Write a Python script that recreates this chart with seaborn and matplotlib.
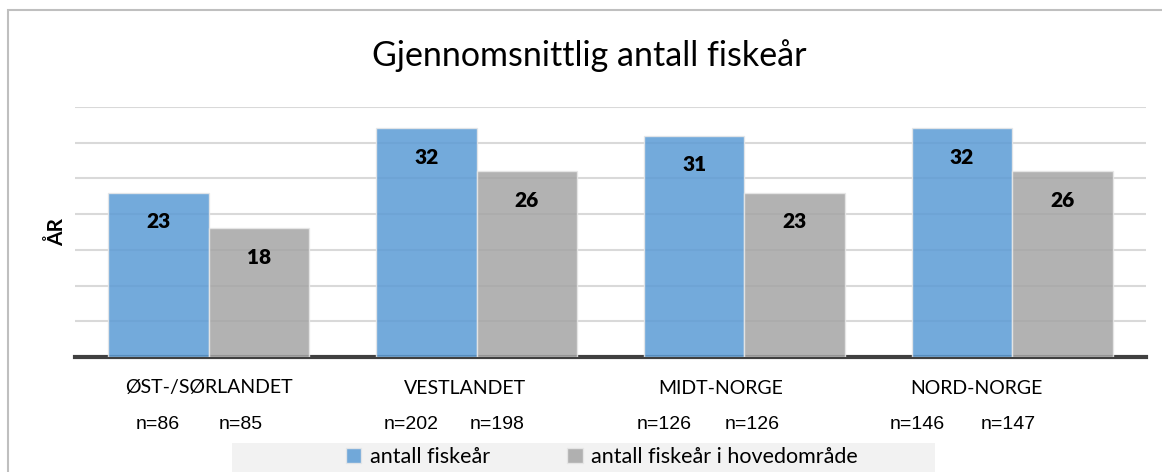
import matplotlib
matplotlib.use("Agg")
import matplotlib.pyplot as plt
from matplotlib.patches import Rectangle
import seaborn as sns
import pandas as pd

# data
regions = ["ØST-/SØRLANDET", "VESTLANDET", "MIDT-NORGE", "NORD-NORGE"]
series = ["antall fiskeår", "antall fiskeår i hovedområde"]
aar_total = [23, 32, 31, 32]
aar_hoved = [18, 26, 23, 26]
n_total = [86, 202, 126, 146]
n_hoved = [85, 198, 126, 147]

df = pd.DataFrame({
    "region": regions * 2,
    "serie": [series[0]] * 4 + [series[1]] * 4,
    "aar": aar_total + aar_hoved,
})

sns.set_style("white")
plt.rcParams["font.family"] = ["Lato", "DejaVu Sans"]
plt.rcParams["text.color"] = "black"

fig = plt.figure(figsize=(11.62, 4.72), dpi=100)
ax = fig.add_axes([75 / 1162, 115 / 472, (1146 - 75) / 1162, 250 / 472])

palette = {series[0]: "#5b9bd5", series[1]: "#a5a5a5"}
sns.barplot(data=df, x="region", y="aar", hue="serie", palette=palette,
            width=0.75, saturation=1, alpha=0.85, edgecolor="#e8e8e8",
            linewidth=1, ax=ax, legend=True, zorder=3)

ax.set_ylim(0, 35)
ax.set_xlim(-0.5, 3.5)
ax.set_yticks(range(5, 36, 5))
ax.yaxis.grid(True, color="#d9d9d9", linewidth=1.5, zorder=0)
ax.set_axisbelow(True)
ax.tick_params(left=False, bottom=False, labelleft=False, labelbottom=False)
for s in ["top", "right", "left"]:
    ax.spines[s].set_visible(False)
ax.spines["bottom"].set_color("#404040")
ax.spines["bottom"].set_linewidth(3)
ax.set_xlabel("")
ax.set_ylabel("ÅR", fontsize=15, fontweight="bold", labelpad=6, color="black")

# value labels inside the bars
for cont in ax.containers:
    for bar in cont:
        h = bar.get_height()
        ax.annotate(f"{h:.0f}", (bar.get_x() + bar.get_width() / 2, h),
                    xytext=(0, -21), textcoords="offset points",
                    ha="center", va="center", fontsize=15, fontweight="heavy",
                    color="black")

# category names and n= under the axis
tr = ax.get_xaxis_transform()
for i, reg in enumerate(regions):
    ax.text(i - 0.045 * i, -0.124, reg, transform=tr, ha="center", va="center",
            fontsize=14, color="black")
    ax.text(-0.19 + 0.945 * i, -0.27, f"n={n_total[i]}", transform=tr,
            ha="center", va="center", fontsize=14, color="black",
            family=["Liberation Sans", "DejaVu Sans"])
    ax.text(0.12 + 0.955 * i, -0.27, f"n={n_hoved[i]}", transform=tr,
            ha="center", va="center", fontsize=14, color="black",
            family=["Liberation Sans", "DejaVu Sans"])

fig.text(589 / 1162, 1 - 56 / 472, "Gjennomsnittlig antall fiskeår", ha="center",
         va="center", fontsize=24.5, color="black")

# legend with light gray background
handles, labels = ax.get_legend_handles_labels()
ax.get_legend().remove()
fig.patches.append(Rectangle((232 / 1162, -0.05), (935 - 232) / 1162, 0.05 + 29 / 472,
                             transform=fig.transFigure, facecolor="#f2f2f2",
                             edgecolor="none", zorder=0))
leg = fig.legend(handles, labels, loc="center", bbox_to_anchor=(602 / 1162, 1 - 457 / 472),
                 ncol=2, frameon=False, fontsize=15.5, handlelength=0.7, handleheight=0.7,
                 columnspacing=3.6, handletextpad=0.4)
for t in leg.get_texts():
    t.set_color("black")

# outer chart border
fig.patches.append(Rectangle((8 / 1162, -0.1), 1.1, 1.1 - 10 / 472,
                             transform=fig.transFigure, fill=False,
                             edgecolor="#bfbfbf", linewidth=1.5))

fig.savefig("out.png", dpi=100)
